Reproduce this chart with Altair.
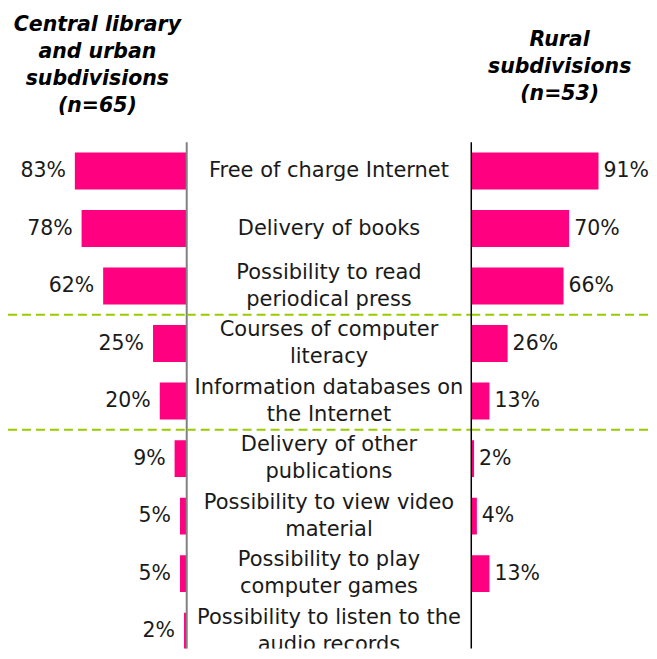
import altair as alt
import pandas as pd

categories = [
    "Free of charge Internet",
    "Delivery of books",
    "Possibility to read\nperiodical press",
    "Courses of computer\nliteracy",
    "Information databases on\nthe Internet",
    "Delivery of other\npublications",
    "Possibility to view video\nmaterial",
    "Possibility to play\ncomputer games",
    "Possibility to listen to the\naudio records",
]
central = [83, 78, 62, 25, 20, 9, 5, 5, 2]
rural = [91, 70, 66, 26, 13, 2, 4, 13, None]
separators = ["Courses of computer\nliteracy", "Delivery of other\npublications"]

left_title = ["Central library", "and urban", "subdivisions", "(n=65)"]
right_title = ["Rural", "subdivisions", "(n=53)"]

df_c = pd.DataFrame({"cat": categories, "v": central})
df_c["lab"] = df_c["v"].map(lambda v: f"{v}%")
df_r = pd.DataFrame({"cat": categories, "v": rural}).dropna()
df_r["lab"] = df_r["v"].map(lambda v: f"{int(v)}%")
df_cat = pd.DataFrame({"cat": categories})
df_cat["two"] = df_cat["cat"].str.contains("\n")
df_sep = pd.DataFrame({"cat": separators})
df_one = pd.DataFrame({"k": [0]})

PINK = "#FF0080"
GREEN = "#99CC00"
FONT = "DejaVu Sans"
TXT = "#1a1a1a"
FS = 21
FSP = 20.5
ROWH = 57.6
YRANGE = ROWH * len(categories)   # rows continue past the visible bottom edge
H = 507                           # visible plot height (last row is cut, as in the original)
WL, WC, WR = 179, 285, 177

ysc = alt.Scale(domain=categories, range=[0, YRANGE], paddingInner=0, paddingOuter=0)
Y = alt.Y("cat:N", scale=ysc, axis=None, sort=None)


def title(lines, offset):
    return alt.TitleParams(
        lines, font=FONT, fontSize=20.5, fontWeight="bold", fontStyle="italic",
        lineHeight=27, offset=offset, anchor="middle", baseline="bottom", color="#000000",
    )


def sep_layer(w):
    return alt.Chart(df_sep).mark_rule(color=GREEN, strokeWidth=2, strokeDash=[9, 5],
                                       clip=True).encode(
        y=alt.Y("cat:N", scale=ysc, bandPosition=0, axis=None, sort=None),
        x=alt.value(0),
        x2=alt.value(w),
    )


def vline(x, color, width):
    return alt.Chart(df_one).mark_rule(color=color, strokeWidth=width).encode(
        x=alt.value(x), y=alt.value(0), y2=alt.value(H))


# Left panel
lx = alt.Scale(domain=[0, 132.6], reverse=True)
left_bars = alt.Chart(df_c).mark_bar(color=PINK, size=37, clip=True).encode(
    x=alt.X("v:Q", scale=lx, axis=None), y=Y)
left_text = alt.Chart(df_c).mark_text(align="right", baseline="middle", dx=-9, font=FONT,
                                      fontSize=FSP, color=TXT).encode(
    x=alt.X("v:Q", scale=lx, axis=None), y=Y, text="lab:N")
left = alt.layer(left_bars, left_text, sep_layer(WL), vline(WL, "#808080", 2)).properties(
    width=WL, height=H, title=title(left_title, 5))

# Center panel
base_c = alt.Chart(df_cat)
one_line = base_c.transform_filter("!datum.two").mark_text(
    align="center", baseline="middle", font=FONT, fontSize=FS, color=TXT, clip=True).encode(
    y=Y, x=alt.value(WC / 2), text="cat:N")
two_line = base_c.transform_filter("datum.two").mark_text(
    align="center", baseline="middle", font=FONT, fontSize=FS, color=TXT, lineBreak="\n",
    lineHeight=27, dy=-13.5, clip=True).encode(
    y=Y, x=alt.value(WC / 2), text="cat:N")
center = alt.layer(one_line, two_line, sep_layer(WC)).properties(width=WC, height=H)

# Right panel
rx = alt.Scale(domain=[0, 126.4])
right_bars = alt.Chart(df_r).mark_bar(color=PINK, size=37, clip=True).encode(
    x=alt.X("v:Q", scale=rx, axis=None), y=Y)
right_text = alt.Chart(df_r).mark_text(align="left", baseline="middle", dx=5, font=FONT,
                                       fontSize=FSP, color=TXT).encode(
    x=alt.X("v:Q", scale=rx, axis=None), y=Y, text="lab:N")
right = alt.layer(right_bars, right_text, sep_layer(WR), vline(0, "#000000", 1.5)).properties(
    width=WR, height=H, title=title(right_title, 17))

chart = alt.hconcat(left, center, right, spacing=0, bounds="flush").properties(
    padding={"left": 0, "right": 0, "top": 6, "bottom": 0}
).configure(background="white").configure_view(strokeWidth=0)

chart.save("out.html", embed_options={"renderer": "svg", "actions": False})
